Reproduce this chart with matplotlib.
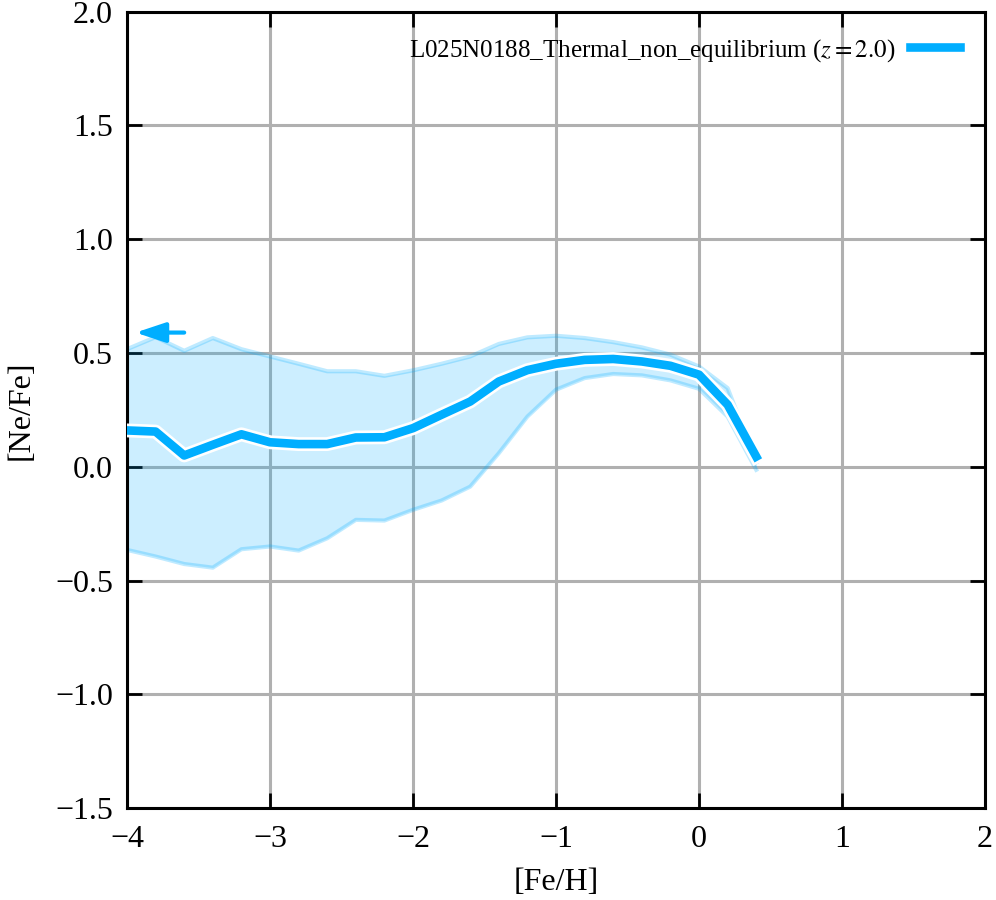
import numpy as np
import matplotlib
matplotlib.use('Agg')
import matplotlib.pyplot as plt
import matplotlib.patheffects as pe

# data
fe_h = [-4.0, -3.8, -3.6, -3.4, -3.2, -3.0, -2.8, -2.6, -2.4, -2.2, -2.0, -1.8,
        -1.6, -1.4, -1.2, -1.0, -0.8, -0.6, -0.4, -0.2, 0.0, 0.2, 0.4]
ne_fe_med = [0.16, 0.155, 0.05, 0.097, 0.143, 0.108, 0.10, 0.10, 0.129, 0.13, 0.17, 0.229,
             0.287, 0.375, 0.425, 0.453, 0.47, 0.474, 0.463, 0.444, 0.405, 0.273, 0.045]
ne_fe_hi = [0.517, 0.57, 0.51, 0.566, 0.517, 0.485, 0.453, 0.42, 0.42, 0.40, 0.424, 0.453,
            0.485, 0.54, 0.569, 0.576, 0.566, 0.548, 0.525, 0.493, 0.441, 0.346, 0.02]
ne_fe_lo = [-0.365, -0.394, -0.427, -0.443, -0.362, -0.35, -0.368, -0.314, -0.233, -0.236, -0.189, -0.148,
            -0.087, 0.06, 0.221, 0.339, 0.39, 0.408, 0.402, 0.38, 0.343, 0.221, -0.013]
label = 'L025N0188_Thermal_non_equilibrium ($z = 2.0$)'
col = '#00aeff'

plt.rcParams['font.family'] = ['Liberation Serif', 'DejaVu Serif']
plt.rcParams['mathtext.fontset'] = 'stix'

fig = plt.figure(figsize=(9.96, 9.0), dpi=100)
ax = fig.add_axes([0.1275, 0.102, 0.8615, 0.885])

ax.fill_between(fe_h, ne_fe_lo, ne_fe_hi, color=col, alpha=0.2, lw=0, zorder=2)
ax.plot(fe_h, ne_fe_hi, color=col, alpha=0.25, lw=3, zorder=2)
ax.plot(fe_h, ne_fe_lo, color=col, alpha=0.25, lw=3, zorder=2)
ax.plot(fe_h, ne_fe_med, color=col, lw=6.2, label=label, zorder=3,
        path_effects=[pe.Stroke(linewidth=10, foreground='white'), pe.Normal()])

# arrow: points continue off the left edge
ax.annotate('', xy=(-3.94, 0.59), xytext=(-3.6, 0.59),
            arrowprops=dict(arrowstyle='-|>,head_length=0.9,head_width=0.3', color=col,
                            lw=3, mutation_scale=20, shrinkA=0, shrinkB=0), zorder=4)

ax.set_xlim(-4, 2)
ax.set_ylim(-1.5, 2.0)
ax.set_xticks(np.arange(-4, 3, 1))
ax.set_yticks(np.arange(-1.5, 2.01, 0.5))
ax.set_yticklabels(['\u22121.5', '\u22121.0', '\u22120.5', '0.0', '0.5', '1.0', '1.5', '2.0'])
ax.set_xticklabels(['\u22124', '\u22123', '\u22122', '\u22121', '0', '1', '2'])
ax.grid(True, color='#b0b0b0', lw=2.2, zorder=0)
ax.set_axisbelow(True)
ax.tick_params(direction='in', length=11, width=2, labelsize=23,
               top=True, right=True)
ax.tick_params(axis='x', pad=12)
ax.tick_params(axis='y', pad=10)
for s in ax.spines.values():
    s.set_linewidth(2.2)
ax.set_xlabel('[Fe/H]', fontsize=23, labelpad=10)
ax.set_ylabel('[Ne/Fe]', fontsize=23, labelpad=14)

ax.legend(loc='upper right', frameon=False, markerfirst=False, fontsize=18,
          handlelength=2.0, handletextpad=0.6, borderaxespad=0.6)

fig.savefig('out.png', dpi=100)
